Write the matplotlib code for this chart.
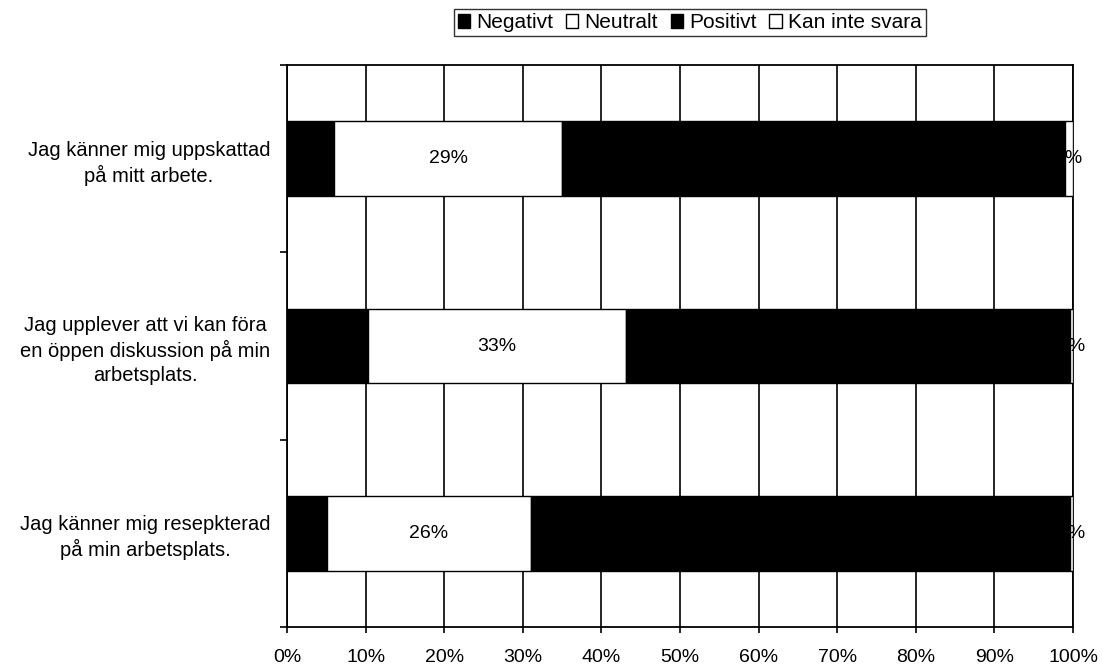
import numpy as np
import matplotlib
matplotlib.use("Agg")
import matplotlib.pyplot as plt
from matplotlib.patches import Patch

plt.rcParams['font.family'] = ['Liberation Sans', 'DejaVu Sans']

## Data (percent of answers)

questions = ["Jag känner mig uppskattad\npå mitt arbete.",
             "Jag upplever att vi kan föra\nen öppen diskussion på min\narbetsplats.",
             "Jag känner mig resepkterad\npå min arbetsplats."]
series = ["Negativt", "Neutralt", "Positivt", "Kan inte svara"]
negativt = [6, 10.3, 5.1]
neutralt = [29, 32.8, 25.9]
positivt = [64, 56.5, 68.6]
kan_inte_svara = [1, 0.4, 0.4]

colors = ["black", "white", "black", "white"]

## Plot

fig = plt.figure(figsize=(11.02, 6.71), dpi=100)
ax = fig.add_axes([0.2604, 0.0656, 0.7133, 0.8375])

y = np.arange(len(questions))
left = np.zeros(len(questions))
for name, vals, col in zip(series, [negativt, neutralt, positivt, kan_inte_svara], colors):
    vals = np.array(vals)
    ax.barh(y, vals, left=left, height=0.4, color=col, edgecolor="black",
            linewidth=1.0, zorder=3)
    for yi, l, v in zip(y, left, vals):
        ax.text(l + v / 2, yi, "%.0f%%" % v, ha="center", va="center",
                fontsize=14, color="black", zorder=4)
    left += vals

ax.set_xlim(0, 100)
ax.set_ylim(2.5, -0.5)
ax.set_xticks(np.arange(0, 101, 10))
ax.set_xticklabels(["%d%%" % t for t in range(0, 101, 10)], fontsize=14)
ax.tick_params(axis="x", length=4.5, width=1.2, pad=11)

ax.set_yticks(y)
ax.set_yticklabels(questions, fontsize=14.5, ha="right", ma="center", linespacing=1.3)
ax.tick_params(axis="y", which="major", length=0, pad=12)
ax.set_yticks([-0.5, 0.5, 1.5, 2.5], minor=True)
ax.tick_params(axis="y", which="minor", length=5, width=1.2)

ax.grid(axis="x", color="black", linewidth=1.2, zorder=0)
for s in ["left", "bottom", "right", "top"]:
    ax.spines[s].set_linewidth(1.3)

handles = [Patch(facecolor=c, edgecolor="black", linewidth=1) for c in colors]
fig.legend(handles, series, loc="center", bbox_to_anchor=(0.626, 0.966), ncol=4,
           fontsize=15, frameon=True, fancybox=False, edgecolor="black",
           handlelength=0.6, handleheight=0.6, handletextpad=0.3,
           columnspacing=0.6, borderpad=0.2, borderaxespad=0)

fig.savefig("out.png", dpi=100)
